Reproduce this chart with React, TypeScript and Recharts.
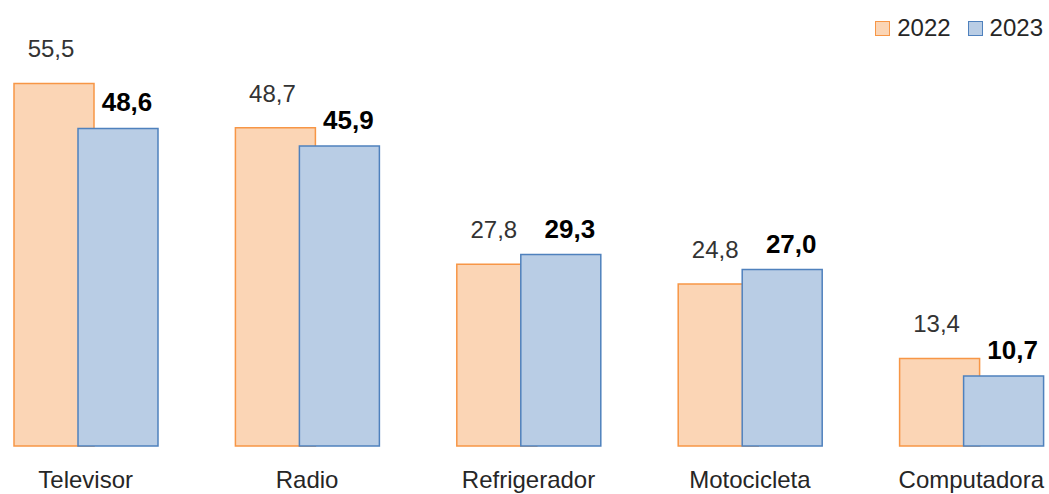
import React from 'react';
import { BarChart, Bar, XAxis, YAxis, Legend, LabelList } from 'recharts';

const categories = ['Televisor', 'Radio', 'Refrigerador', 'Motocicleta', 'Computadora'];
const values2022 = [55.5, 48.7, 27.8, 24.8, 13.4];
const values2023 = [48.6, 45.9, 29.3, 27.0, 10.7];
const seriesNames = ['2022', '2023'];

const fills = ['#FBD5B5', '#B9CDE5'];
const strokes = ['#F79646', '#4F81BD'];
const FONT = 'Arial, "Liberation Sans", sans-serif';

const data = categories.map((c, i) => ({ name: c, y2022: values2022[i], y2023: values2023[i] }));

const fmt = (v: number) => Number(v).toFixed(1).replace('.', ',');

const label2022 = (props: any) => {
  const { x, y, width, value } = props;
  return (
    <text
      x={Number(x) + Number(width) / 2 - 3}
      y={Number(y) - 26}
      textAnchor="middle"
      fontSize={24}
      fill="#333333"
      fontFamily={FONT}
    >
      {fmt(value)}
    </text>
  );
};

const label2023 = (props: any) => {
  const { x, y, width, value } = props;
  return (
    <text
      x={Number(x) + Number(width) / 2 + 9}
      y={Number(y) - 17}
      textAnchor="middle"
      fontSize={26}
      fontWeight="bold"
      fill="#000000"
      fontFamily={FONT}
    >
      {fmt(value)}
    </text>
  );
};

const Tick = (props: any) => (
  <text
    x={props.x}
    y={props.y + 42}
    textAnchor="middle"
    fontSize={24}
    fill="#262626"
    fontFamily={FONT}
  >
    {props.payload.value}
  </text>
);

const renderLegend = (props: any) => {
  const payload = props.payload || [];
  return (
    <div
      style={{
        display: 'flex',
        alignItems: 'center',
        fontFamily: FONT,
        fontSize: 24,
        color: '#262626',
        lineHeight: '28px',
        whiteSpace: 'nowrap',
      }}
    >
      {payload.map((p: any, i: number) => (
        <div key={i} style={{ display: 'flex', alignItems: 'center', marginLeft: i ? 17 : 0 }}>
          <span
            style={{
              display: 'inline-block',
              width: 15,
              height: 15,
              boxSizing: 'border-box',
              background: fills[i],
              border: `1.5px solid ${strokes[i]}`,
              marginRight: 7,
            }}
          />
          <span>{p.value}</span>
        </div>
      ))}
    </div>
  );
};

export default function App() {
  return (
    <div
      style={{
        position: 'absolute',
        left: 0,
        top: 0,
        width: 1049,
        height: 494,
        overflow: 'hidden',
        background: '#ffffff',
      }}
    >
      <div style={{ position: 'absolute', left: -25, top: 0 }}>
        <BarChart
          width={1107}
          height={494}
          data={data}
          margin={{ top: 54, right: 0, bottom: 0, left: 0 }}
          barSize={80}
          barGap={-16}
        >
          <XAxis
            dataKey="name"
            axisLine={false}
            tickLine={false}
            tickSize={0}
            tickMargin={0}
            height={48}
            interval={0}
            tick={<Tick />}
          />
          <YAxis hide domain={[0, 60]} />
          <Legend
            layout="vertical"
            align="center"
            verticalAlign="middle"
            wrapperStyle={{ top: 14, left: 'auto', right: 39, width: 'auto', height: 'auto' }}
            content={renderLegend}
          />
          <Bar
            dataKey="y2022"
            name={seriesNames[0]}
            fill={fills[0]}
            stroke={strokes[0]}
            strokeWidth={1.5}
            isAnimationActive={false}
          >
            <LabelList dataKey="y2022" content={label2022} />
          </Bar>
          <Bar
            dataKey="y2023"
            name={seriesNames[1]}
            fill={fills[1]}
            stroke={strokes[1]}
            strokeWidth={1.5}
            isAnimationActive={false}
          >
            <LabelList dataKey="y2023" content={label2023} />
          </Bar>
        </BarChart>
      </div>
    </div>
  );
}
